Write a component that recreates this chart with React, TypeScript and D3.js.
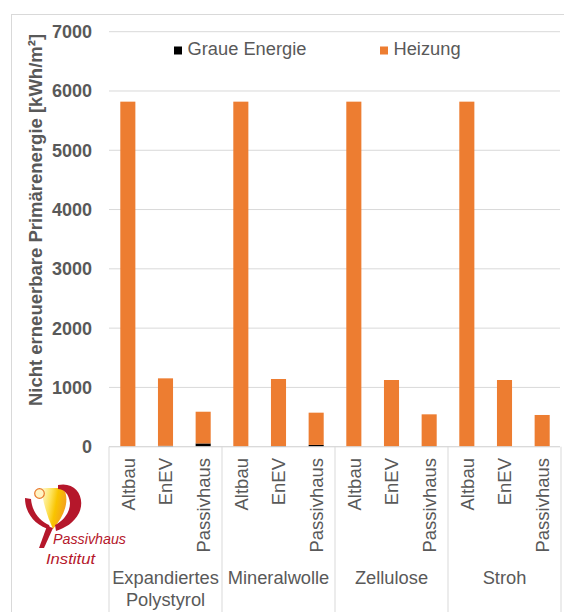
import { useMemo } from 'react'
import * as d3 from 'd3'

const GROUPS = ['Expandiertes Polystyrol', 'Mineralwolle', 'Zellulose', 'Stroh']
const VARIANTS = ['Altbau', 'EnEV', 'Passivhaus']
const GRAUE = [0, 15, 55, 0, 10, 30, 0, 0, 8, 0, 0, 0]
const HEIZUNG = [5820, 1138, 535, 5820, 1132, 544, 5820, 1125, 538, 5820, 1125, 535]
const Y_TICKS = [0, 1000, 2000, 3000, 4000, 5000, 6000, 7000]

const W = 564
const H = 612
const FONT = '"Liberation Sans", Arial, Helvetica, sans-serif'
const TEXT = '#595959'
const GRID = '#d9d9d9'
const ORANGE = '#ed7d31'
const RED = '#b5172b'

type Row = { key: string; group: string; variant: string; graue: number; heizung: number }

export default function App() {
  const rows: Row[] = useMemo(
    () =>
      GROUPS.flatMap((group, gi) =>
        VARIANTS.map((variant, vi) => {
          const i = gi * VARIANTS.length + vi
          return { key: `${gi}-${vi}`, group, variant, graue: GRAUE[i], heizung: HEIZUNG[i] }
        }),
      ),
    [],
  )

  const x = d3
    .scaleBand<string>()
    .domain(rows.map((r) => r.key))
    .range([109, 561])
    .paddingInner(0.6)
    .paddingOuter(0.3)
  const y = d3.scaleLinear().domain([0, 7000]).range([446.7, 31.7])

  const series = d3.stack<Row>().keys(['graue', 'heizung'])(rows)
  const colors: Record<string, string> = { graue: '#000000', heizung: ORANGE }

  const step = x.step()
  const groupEdges = d3.range(GROUPS.length + 1).map((i) => 109 + i * step * VARIANTS.length)

  return (
    <svg
      width={W}
      height={H}
      style={{ position: 'absolute', left: 0, top: 0, background: '#fff' }}
      fontFamily={FONT}
    >
      <rect x={11.5} y={14.5} width={700} height={700} fill="#fff" stroke={GRID} />

      {/* grid */}
      {Y_TICKS.map((t) => (
        <g key={t}>
          <line x1={109} x2={560} y1={y(t)} y2={y(t)} stroke={GRID} strokeWidth={1} />
          <text
            x={92}
            y={y(t)}
            dy="0.36em"
            textAnchor="end"
            fontSize={18}
            fontWeight="bold"
            fill={TEXT}
          >
            {t}
          </text>
        </g>
      ))}

      {/* bars */}
      {series.map((s) => (
        <g key={s.key} fill={colors[s.key]}>
          {s.map((d) => (
            <rect
              key={d.data.key}
              x={x(d.data.key)}
              y={y(d[1])}
              width={x.bandwidth()}
              height={Math.max(0, y(d[0]) - y(d[1]))}
            />
          ))}
        </g>
      ))}

      {/* category axis */}
      <line x1={109} x2={560} y1={y(0)} y2={y(0)} stroke={GRID} />
      {groupEdges.map((gx) => (
        <line key={gx} x1={gx} x2={gx} y1={y(0)} y2={H} stroke={GRID} />
      ))}
      {rows.map((r) => {
        const cx = (x(r.key) ?? 0) + x.bandwidth() / 2
        return (
          <text
            key={r.key}
            transform={`translate(${cx},458) rotate(-90)`}
            dy="0.36em"
            textAnchor="end"
            fontSize={18.5}
            fill={TEXT}
          >
            {r.variant}
          </text>
        )
      })}
      {GROUPS.map((g, gi) => {
        const cx = (groupEdges[gi] + groupEdges[gi + 1]) / 2
        const lines = g === 'Expandiertes Polystyrol' ? ['Expandiertes', 'Polystyrol'] : [g]
        return (
          <text key={g} x={cx} y={584} textAnchor="middle" fontSize={18.3} fill={TEXT}>
            {lines.map((l, li) => (
              <tspan key={l} x={cx} dy={li === 0 ? 0 : 22}>
                {l}
              </tspan>
            ))}
          </text>
        )
      })}

      {/* y title */}
      <text
        transform="translate(35,220) rotate(-90)"
        dy="0.36em"
        textAnchor="middle"
        fontSize={18.5}
        fontWeight="bold"
        fill={TEXT}
      >
        Nicht erneuerbare Primärenergie [kWh/m²]
      </text>

      {/* legend */}
      <rect x={174} y={46.5} width={8} height={8} fill="#000" />
      <text x={187.5} y={55} fontSize={18.3} fill={TEXT}>
        Graue Energie
      </text>
      <rect x={380} y={46.5} width={8} height={8} fill={ORANGE} />
      <text x={393.5} y={55} fontSize={18.3} fill={TEXT}>
        Heizung
      </text>

      {/* logo */}
      <defs>
        <linearGradient id="petal" x1="0" y1="0" x2="1" y2="0.3">
          <stop offset="0" stopColor="#fffbe0" />
          <stop offset="0.4" stopColor="#fde25a" />
          <stop offset="0.65" stopColor="#f9c400" />
          <stop offset="1" stopColor="#f4a21c" />
        </linearGradient>
      </defs>
      <path d="M41 488 L63 488 C70 498 66 514 53 529 C47 516 43 502 41 488 Z" fill="url(#petal)" />
      <path
        d="M58 485 C76 481 86 498 79 513 C74 523 65 528 56 531 L55 525 C63 521 70 513 70 503 C69 494 64 489 58 489 Z"
        fill={RED}
      />
      <path d="M25 498 C25 514 36 526 51 530 L49 525 C40 521 32 512 31 499 Z" fill={RED} />
      <path d="M47 526 L53 528 L44 548 L39 548 Z" fill={RED} />
      <circle cx={39.5} cy={493.5} r={4.8} fill="#fff4c4" stroke="#e8782a" strokeWidth={1.2} />
      <text
        x={53}
        y={544}
        fontSize={15}
        fontStyle="italic"
        fill={RED}
        textLength={73}
        lengthAdjust="spacingAndGlyphs"
      >
        Passivhaus
      </text>
      <text
        x={46}
        y={564}
        fontSize={15}
        fontStyle="italic"
        fill={RED}
        textLength={49}
        lengthAdjust="spacingAndGlyphs"
      >
        Institut
      </text>
    </svg>
  )
}
